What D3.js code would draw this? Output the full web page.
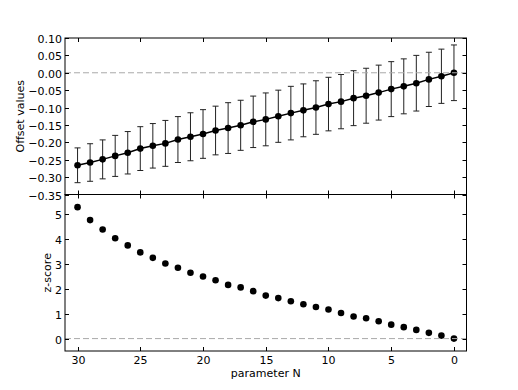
<!DOCTYPE html>
<meta charset="utf-8">
<head>
<script src="https://d3js.org/d3.v7.min.js"></script>
<style>
  body { margin: 0; background: #fff; }
  text { font-family: "DejaVu Sans", sans-serif; fill: #000; }
</style>
</head>
<body>
<svg id="chart" width="518" height="390"></svg>
<script>

// parameter N, from 30 down to 0
var paramN = d3.range(30, -1, -1);

// upper panel: offset values and their error bars
var offsetVals = [-0.266, -0.258, -0.249, -0.239, -0.230, -0.218, -0.210, -0.203, -0.192, -0.184,
                  -0.176, -0.166, -0.159, -0.151, -0.141, -0.134, -0.125, -0.116, -0.108, -0.100,
                  -0.090, -0.083, -0.073, -0.066, -0.057, -0.047, -0.039, -0.030, -0.019, -0.010, 0.000];
var offsetErr = [0.050, 0.054, 0.056, 0.059, 0.061, 0.063, 0.064, 0.066, 0.066, 0.069,
                 0.070, 0.070, 0.073, 0.072, 0.074, 0.076, 0.075, 0.077, 0.076, 0.077,
                 0.077, 0.078, 0.079, 0.079, 0.079, 0.079, 0.079, 0.080, 0.078, 0.078, 0.080];

// lower panel: z-scores
var zScores = [5.29, 4.77, 4.39, 4.04, 3.75, 3.47, 3.25, 3.02, 2.85, 2.65,
               2.50, 2.35, 2.16, 2.06, 1.91, 1.73, 1.63, 1.50, 1.38, 1.27,
               1.17, 1.03, 0.89, 0.82, 0.70, 0.56, 0.46, 0.35, 0.23, 0.12, 0.00];

var xTicks = [30, 25, 20, 15, 10, 5, 0];
var yTicksTop = [0.10, 0.05, 0.00, -0.05, -0.10, -0.15, -0.20, -0.25, -0.30, -0.35];
var yTicksBot = [0, 1, 2, 3, 4, 5];

var svg = d3.select("#chart");

var left = 65, right = 466.5;
var top1 = 38, bot1 = 194.5, top2 = 194.5, bot2 = 351;
var tickLen = 4;

var x = d3.scaleLinear().domain([31, -1]).range([left, right]);
var y1 = d3.scaleLinear().domain([-0.35, 0.10]).range([bot1, top1]);
var y2 = d3.scaleLinear().domain([-0.5, 5.8]).range([bot2, top2]);

// minus sign like matplotlib
function fmt2(v) { return d3.format(".2f")(v).replace("-", "\u2212"); }

function drawPanel(g, y, yTicks, yFmt, yTop, yBot, showX) {
  // zero dashed line
  g.append("line")
    .attr("x1", left).attr("x2", right)
    .attr("y1", y(0)).attr("y2", y(0))
    .attr("stroke", "#aaa").attr("stroke-width", 1)
    .attr("stroke-dasharray", "6,3");

  // x ticks, inward on top and bottom
  xTicks.forEach(function(t) {
    var px = Math.round(x(t)) + 0.5;
    g.append("line").attr("x1", px).attr("x2", px)
      .attr("y1", yTop).attr("y2", yTop + tickLen).attr("stroke", "#000");
    g.append("line").attr("x1", px).attr("x2", px)
      .attr("y1", yBot).attr("y2", yBot - tickLen).attr("stroke", "#000");
    if (showX) {
      g.append("text").attr("x", px).attr("y", yBot + 12.5)
        .attr("text-anchor", "middle").attr("font-size", 11)
        .text(t);
    }
  });

  // y ticks, inward on left and right
  yTicks.forEach(function(t) {
    var py = Math.round(y(t)) + 0.5;
    g.append("line").attr("x1", left).attr("x2", left + tickLen)
      .attr("y1", py).attr("y2", py).attr("stroke", "#000");
    g.append("line").attr("x1", right).attr("x2", right - tickLen)
      .attr("y1", py).attr("y2", py).attr("stroke", "#000");
    g.append("text").attr("x", left - 3).attr("y", py + 4)
      .attr("text-anchor", "end").attr("font-size", 11)
      .text(yFmt(t));
  });

  // frame
  g.append("rect")
    .attr("x", left).attr("y", yTop)
    .attr("width", right - left).attr("height", yBot - yTop)
    .attr("fill", "none").attr("stroke", "#000").attr("stroke-width", 1);
}

var g1 = svg.append("g");
var g2 = svg.append("g");

// upper panel: error bars, line and markers
var gErr = g1.append("g");
paramN.forEach(function(n, i) {
  var px = x(n);
  var lo = y1(offsetVals[i] - offsetErr[i]), hi = y1(offsetVals[i] + offsetErr[i]);
  gErr.append("line").attr("x1", px).attr("x2", px).attr("y1", lo).attr("y2", hi)
    .attr("stroke", "#222").attr("stroke-width", 1);
  gErr.append("line").attr("x1", px - 3).attr("x2", px + 3).attr("y1", lo).attr("y2", lo)
    .attr("stroke", "#222").attr("stroke-width", 1);
  gErr.append("line").attr("x1", px - 3).attr("x2", px + 3).attr("y1", hi).attr("y2", hi)
    .attr("stroke", "#222").attr("stroke-width", 1);
});

var line = d3.line()
  .x(function(d, i) { return x(paramN[i]); })
  .y(function(d) { return y1(d); });

g1.append("path")
  .datum(offsetVals)
  .attr("d", line)
  .attr("fill", "none").attr("stroke", "#000").attr("stroke-width", 1.5);

g1.append("g").selectAll("circle")
  .data(offsetVals)
  .enter().append("circle")
  .attr("cx", function(d, i) { return x(paramN[i]); })
  .attr("cy", function(d) { return y1(d); })
  .attr("r", 3.3)
  .attr("fill", "#000");

drawPanel(g1, y1, yTicksTop, fmt2, top1, bot1, false);

// lower panel: z-score markers
g2.append("g").selectAll("circle")
  .data(zScores)
  .enter().append("circle")
  .attr("cx", function(d, i) { return x(paramN[i]); })
  .attr("cy", function(d) { return y2(d); })
  .attr("r", 3.3)
  .attr("fill", "#000");

drawPanel(g2, y2, yTicksBot, function(v) { return v; }, top2, bot2, true);

// axis labels
svg.append("text")
  .attr("transform", "translate(" + 24 + "," + ((top1 + bot1) / 2) + ") rotate(-90)")
  .attr("text-anchor", "middle").attr("font-size", 11)
  .text("Offset values");

svg.append("text")
  .attr("transform", "translate(" + 51 + "," + ((top2 + bot2) / 2) + ") rotate(-90)")
  .attr("text-anchor", "middle").attr("font-size", 11)
  .text("z-score");

svg.append("text")
  .attr("x", (left + right) / 2).attr("y", 377)
  .attr("text-anchor", "middle").attr("font-size", 11)
  .text("parameter N");

</script>
</body>
</html>
